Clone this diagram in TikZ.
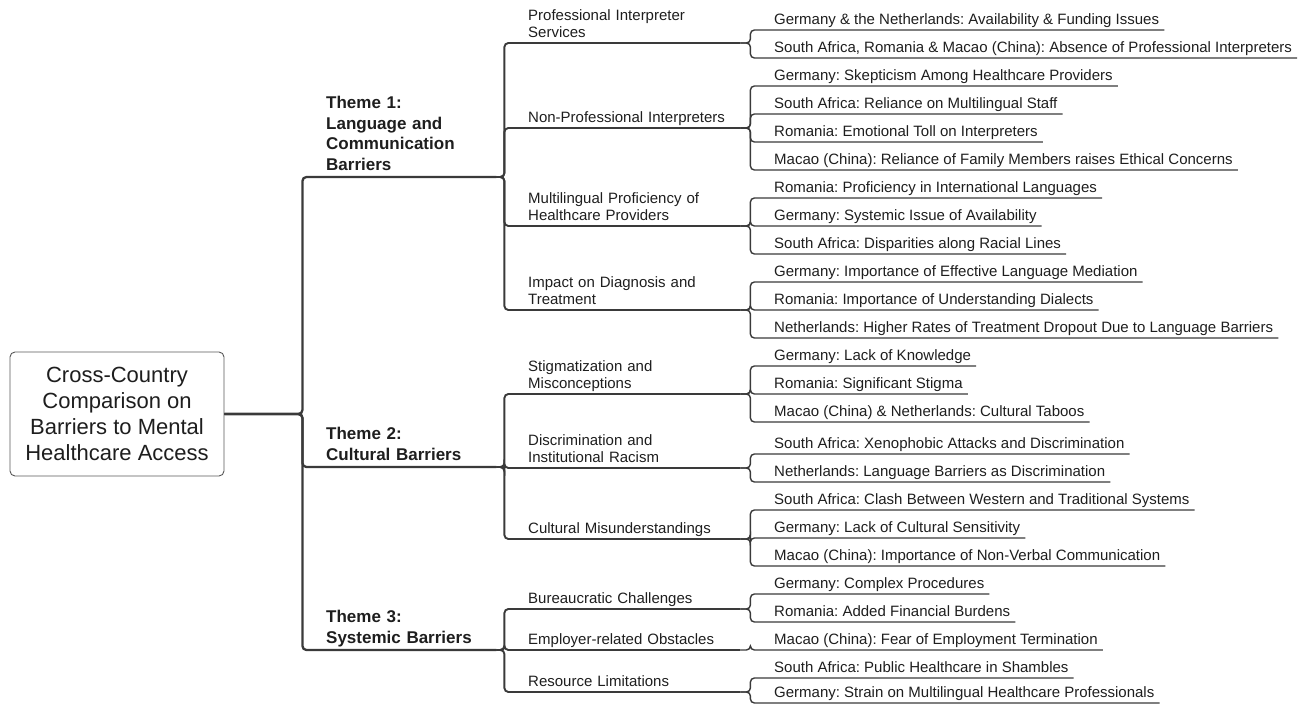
\documentclass[tikz,border=0pt]{standalone}
\usepackage{fontspec}
\setmainfont{Liberation Sans}
\frenchspacing
\definecolor{ink}{HTML}{1E1E1E}
\definecolor{wire}{HTML}{3A3A3A}
\begin{document}
\begin{tikzpicture}
  [x=1pt,y=-1pt,
   rootbox/.style={draw=wire!85,line width=0.9pt,rounded corners=5pt,fill=white,align=center,
     minimum width=214pt,minimum height=124pt,inner sep=2pt,text=ink,font=\fontsize{22}{26.2}\selectfont},
   themetext/.style={anchor=south west,align=left,text width=166pt,inner xsep=4pt,inner ysep=0pt,
     text=ink,font=\fontsize{17}{20.7}\selectfont\bfseries,execute at end node=\strut},
   subtext/.style={anchor=south west,align=left,text width=208pt,inner xsep=4pt,inner ysep=0pt,
     text=ink,font=\fontsize{15}{17.5}\selectfont,execute at end node=\strut},
   leaftext/.style={anchor=south west,inner xsep=5pt,inner ysep=0pt,
     text=ink,font=\fontsize{15}{18}\selectfont,execute at end node=\strut},
   trunk/.style={draw=wire,line width=2.3pt,rounded corners=4pt},
   branch/.style={draw=wire,line width=1.9pt,rounded corners=4pt},
   twig/.style={draw=wire,line width=1.4pt,rounded corners=4pt}]
  \useasboundingbox (0,0) rectangle (1298,706);

  % root
  \node[rootbox] (root) at (117,414) {Cross-Country\\Comparison on\\Barriers to Mental\\Healthcare Access};

  % themes
  \node[themetext] (th1) at (322,177) {Theme 1:\\Language and\\Communication\\Barriers};
  \node[themetext] (th2) at (322,467) {Theme 2:\\Cultural Barriers};
  \node[themetext] (th3) at (322,650) {Theme 3:\\Systemic Barriers};

  % sub themes
  \node[subtext] (s11) at (524,43) {Professional Interpreter\\Services};
  \node[subtext] (s12) at (524,128) {Non-Professional Interpreters};
  \node[subtext] (s13) at (524,226) {Multilingual Proficiency of\\Healthcare Providers};
  \node[subtext] (s14) at (524,310) {Impact on Diagnosis and\\Treatment};
  \node[subtext] (s21) at (524,394) {Stigmatization and\\Misconceptions};
  \node[subtext] (s22) at (524,468) {Discrimination and\\Institutional Racism};
  \node[subtext] (s23) at (524,539) {Cultural Misunderstandings};
  \node[subtext] (s31) at (524,609) {Bureaucratic Challenges};
  \node[subtext] (s32) at (524,650) {Employer-related Obstacles};
  \node[subtext] (s33) at (524,692) {Resource Limitations};

  % countries
  \node[leaftext] (l1) at (769,30) {Germany \& the Netherlands: Availability \& Funding Issues};
  \node[leaftext] (l2) at (769,58) {South Africa, Romania \& Macao (China): Absence of Professional Interpreters};
  \node[leaftext] (l3) at (769,86) {Germany: Skepticism Among Healthcare Providers};
  \node[leaftext] (l4) at (769,114) {South Africa: Reliance on Multilingual Staff};
  \node[leaftext] (l5) at (769,142) {Romania: Emotional Toll on Interpreters};
  \node[leaftext] (l6) at (769,170) {Macao (China): Reliance of Family Members raises Ethical Concerns};
  \node[leaftext] (l7) at (769,198) {Romania: Proficiency in International Languages};
  \node[leaftext] (l8) at (769,226) {Germany: Systemic Issue of Availability};
  \node[leaftext] (l9) at (769,254) {South Africa: Disparities along Racial Lines};
  \node[leaftext] (l10) at (769,282) {Germany: Importance of Effective Language Mediation};
  \node[leaftext] (l11) at (769,310) {Romania: Importance of Understanding Dialects};
  \node[leaftext] (l12) at (769,338) {Netherlands: Higher Rates of Treatment Dropout Due to Language Barriers};
  \node[leaftext] (l13) at (769,366) {Germany: Lack of Knowledge};
  \node[leaftext] (l14) at (769,394) {Romania: Significant Stigma};
  \node[leaftext] (l15) at (769,422) {Macao (China) \& Netherlands: Cultural Taboos};
  \node[leaftext] (l16) at (769,454) {South Africa: Xenophobic Attacks and Discrimination};
  \node[leaftext] (l17) at (769,482) {Netherlands: Language Barriers as Discrimination};
  \node[leaftext] (l18) at (769,510) {South Africa: Clash Between Western and Traditional Systems};
  \node[leaftext] (l19) at (769,538) {Germany: Lack of Cultural Sensitivity};
  \node[leaftext] (l20) at (769,566) {Macao (China): Importance of Non-Verbal Communication};
  \node[leaftext] (l21) at (769,594) {Germany: Complex Procedures};
  \node[leaftext] (l22) at (769,622) {Romania: Added Financial Burdens};
  \node[leaftext] (l23) at (769,650) {Macao (China): Fear of Employment Termination};
  \node[leaftext] (l24) at (769,678) {South Africa: Public Healthcare in Shambles};
  \node[leaftext] (l25) at (769,703) {Germany: Strain on Multilingual Healthcare Professionals};

  % root to themes
  \draw[trunk] (root.east) -- ++(78,0) |- (th1.south west) -- (th1.south east);
  \draw[trunk] (root.east) -- ++(78,0) |- (th2.south west) -- (th2.south east);
  \draw[trunk] (root.east) -- ++(78,0) |- (th3.south west) -- (th3.south east);

  % themes to sub themes
  \draw[branch] (th1.south east) -- ++(8,0) |- (s11.south west) -- (s11.south east);
  \draw[branch] (th1.south east) -- ++(8,0) |- (s12.south west) -- (s12.south east);
  \draw[branch] (th1.south east) -- ++(8,0) |- (s13.south west) -- (s13.south east);
  \draw[branch] (th1.south east) -- ++(8,0) |- (s14.south west) -- (s14.south east);
  \draw[branch] (th2.south east) -- ++(8,0) |- (s21.south west) -- (s21.south east);
  \draw[branch] (th2.south east) -- ++(8,0) |- (s22.south west) -- (s22.south east);
  \draw[branch] (th2.south east) -- ++(8,0) |- (s23.south west) -- (s23.south east);
  \draw[branch] (th3.south east) -- ++(8,0) |- (s31.south west) -- (s31.south east);
  \draw[branch] (th3.south east) -- ++(8,0) |- (s32.south west) -- (s32.south east);
  \draw[branch] (th3.south east) -- ++(8,0) |- (s33.south west) -- (s33.south east);

  % sub themes to countries
  \draw[twig] (s11.south east) -- ++(10,0) |- (l1.south west) -- (l1.south east);
  \draw[twig] (s11.south east) -- ++(10,0) |- (l2.south west) -- (l2.south east);
  \draw[twig] (s12.south east) -- ++(10,0) |- (l3.south west) -- (l3.south east);
  \draw[twig] (s12.south east) -- ++(10,0) |- (l4.south west) -- (l4.south east);
  \draw[twig] (s12.south east) -- ++(10,0) |- (l5.south west) -- (l5.south east);
  \draw[twig] (s12.south east) -- ++(10,0) |- (l6.south west) -- (l6.south east);
  \draw[twig] (s13.south east) -- ++(10,0) |- (l7.south west) -- (l7.south east);
  \draw[twig] (s13.south east) -- ++(10,0) |- (l8.south west) -- (l8.south east);
  \draw[twig] (s13.south east) -- ++(10,0) |- (l9.south west) -- (l9.south east);
  \draw[twig] (s14.south east) -- ++(10,0) |- (l10.south west) -- (l10.south east);
  \draw[twig] (s14.south east) -- ++(10,0) |- (l11.south west) -- (l11.south east);
  \draw[twig] (s14.south east) -- ++(10,0) |- (l12.south west) -- (l12.south east);
  \draw[twig] (s21.south east) -- ++(10,0) |- (l13.south west) -- (l13.south east);
  \draw[twig] (s21.south east) -- ++(10,0) |- (l14.south west) -- (l14.south east);
  \draw[twig] (s21.south east) -- ++(10,0) |- (l15.south west) -- (l15.south east);
  \draw[twig] (s22.south east) -- ++(10,0) |- (l16.south west) -- (l16.south east);
  \draw[twig] (s22.south east) -- ++(10,0) |- (l17.south west) -- (l17.south east);
  \draw[twig] (s23.south east) -- ++(10,0) |- (l18.south west) -- (l18.south east);
  \draw[twig] (s23.south east) -- ++(10,0) |- (l19.south west) -- (l19.south east);
  \draw[twig] (s23.south east) -- ++(10,0) |- (l20.south west) -- (l20.south east);
  \draw[twig] (s31.south east) -- ++(10,0) |- (l21.south west) -- (l21.south east);
  \draw[twig] (s31.south east) -- ++(10,0) |- (l22.south west) -- (l22.south east);
  \draw[twig] (s32.south east) -- ++(10,0) |- (l23.south west) -- (l23.south east);
  \draw[twig] (s33.south east) -- ++(10,0) |- (l24.south west) -- (l24.south east);
  \draw[twig] (s33.south east) -- ++(10,0) |- (l25.south west) -- (l25.south east);
\end{tikzpicture}
\end{document}
